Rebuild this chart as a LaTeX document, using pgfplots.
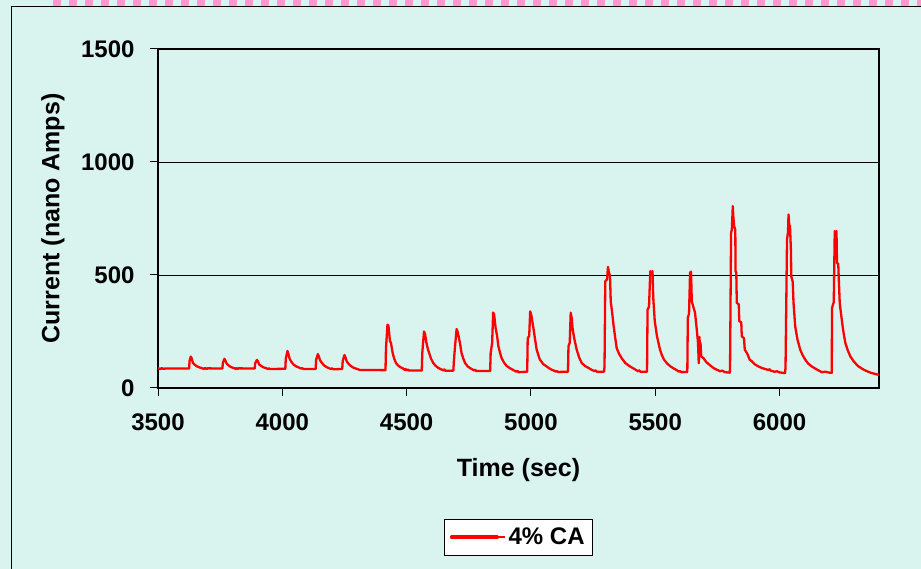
\documentclass[border=0pt]{standalone}
\usepackage{pgfplots}
\pgfplotsset{compat=1.18}
\usepackage{fontspec}
\setmainfont{Liberation Sans}
\definecolor{panel}{HTML}{D9F3EF}
\definecolor{stripe}{HTML}{FF99CC}

\pgfplotstableread{
t v
3500 87
3510 84
3515 88
3520 85
3530 86
3560 86
3600 86
3625 86
3627 120
3632 139
3636 130
3640 112
3648 103
3656 96
3665 92
3675 88
3685 85
3690 88
3695 84
3700 87
3750 86
3759 86
3761 112
3767 129
3771 122
3776 108
3784 100
3793 93
3803 89
3812 85
3817 88
3820 84
3824 87
3880 86
3889 86
3891 110
3898 124
3902 118
3907 104
3916 97
3925 91
3935 88
3942 84
3946 87
3950 84
4012 85
4014 130
4021 164
4025 148
4030 128
4037 115
4046 103
4057 95
4068 90
4075 86
4080 88
4085 84
4134 84
4136 125
4143 150
4147 140
4152 122
4160 110
4169 99
4179 92
4189 87
4196 84
4200 87
4205 83
4241 84
4243 120
4250 146
4254 136
4259 118
4267 106
4276 97
4286 90
4296 86
4305 83
4310 80
4415 79
4417 176
4423 280
4427 275
4433 207
4437 200
4444 154
4450 130
4457 111
4465 100
4475 92
4485 87
4492 80
4496 84
4500 78
4505 82
4510 77
4561 77
4563 156
4570 250
4574 240
4580 198
4586 170
4591 154
4598 130
4607 111
4615 100
4627 89
4640 82
4648 78
4652 82
4656 76
4688 77
4690 118
4694 175
4701 261
4705 250
4712 213
4716 190
4721 154
4728 130
4735 111
4745 96
4755 88
4765 82
4772 78
4776 81
4780 75
4836 75
4838 154
4844 200
4848 334
4852 325
4858 265
4864 230
4869 185
4876 155
4882 132
4892 112
4902 98
4915 88
4928 80
4935 76
4940 72
4945 76
4950 70
4985 72
4987 220
4993 230
4997 339
5002 320
5010 265
5016 220
5023 170
5030 145
5036 126
5050 105
5064 95
5075 86
5085 80
5095 76
5100 72
5104 75
5110 71
5149 72
5151 185
5156 200
5160 333
5164 310
5168 259
5175 215
5184 170
5194 135
5204 111
5218 97
5231 89
5245 80
5255 75
5260 78
5265 72
5294 72
5296 95
5299 472
5306 480
5310 536
5314 510
5318 497
5321 383
5326 340
5332 280
5338 230
5345 176
5355 150
5365 132
5380 110
5399 95
5415 85
5425 78
5432 74
5436 78
5440 72
5467 72
5469 346
5475 360
5480 517
5485 505
5489 517
5492 399
5498 296
5507 229
5513 200
5519 170
5527 145
5535 126
5548 108
5562 95
5575 86
5588 78
5595 72
5600 75
5605 70
5629 71
5631 310
5636 330
5640 510
5644 515
5647 383
5653 360
5660 333
5667 259
5672 200
5675 110
5678 225
5680 150
5682 200
5685 140
5690 135
5694 132
5705 115
5721 100
5735 88
5745 82
5754 78
5760 74
5770 77
5780 70
5800 68
5801 111
5805 687
5808 700
5812 805
5814 760
5817 717
5822 700
5823 517
5826 510
5828 377
5836 370
5838 296
5846 290
5848 229
5857 220
5860 170
5871 150
5880 125
5889 118
5900 105
5914 96
5930 88
5954 80
5960 83
5965 76
5970 75
5980 72
5990 74
6000 69
6022 66
6024 89
6030 657
6034 690
6036 768
6039 720
6042 717
6046 600
6047 494
6053 470
6056 380
6063 272
6072 215
6083 170
6093 145
6103 126
6115 108
6130 95
6145 85
6160 76
6170 70
6185 72
6200 68
6210 67
6211 354
6218 380
6222 694
6226 600
6229 694
6231 553
6236 550
6242 376
6252 287
6258 240
6265 198
6275 165
6285 139
6300 115
6318 95
6340 80
6365 68
6385 62
6400 58
}\currentdata

\begin{document}
\begin{tikzpicture}
\fill[panel] (0pt,0pt) rectangle (921pt,569pt);
\useasboundingbox (0pt,0pt) rectangle (921pt,569pt);
% dashed strip along the top edge and the inner frame
\draw[stripe, line width=6pt, dash pattern=on 8pt off 8pt] (53pt,566pt) -- (921pt,566pt);
\draw[black, line width=1pt] (11pt,0pt) -- (11pt,562pt) -- (921pt,562pt);
\begin{axis}[
  at={(158pt,181pt)}, anchor=south west,
  scale only axis, width=721pt, height=339pt,
  clip=false,
  xmin=3500, xmax=6400, ymin=0, ymax=1500,
  xtick={3500,4000,4500,5000,5500,6000},
  ytick={0,500,1000,1500},
  ymajorgrids,
  grid style={black, line width=0.8pt},
  axis line style={black, line width=1.2pt},
  major tick length=0pt,
  /pgf/number format/1000 sep={},
  /pgf/number format/assume math mode=true,
  ticklabel style={font=\fontsize{24}{28}\selectfont\bfseries},
  xticklabel style={yshift=-22pt},
  yticklabel style={xshift=-20pt},
  xlabel={Time (sec)},
  ylabel={Current (nano Amps)},
  label style={font=\fontsize{25}{30}\selectfont\bfseries},
  xlabel style={at={(axis description cs:0.5,-0.242)}, anchor=center},
  ylabel style={at={(axis description cs:-0.1456,0.5)}, anchor=center},
  legend style={at={(axis description cs:0.5,-0.386)}, anchor=north,
    draw=black, fill=white,
    font=\fontsize{24}{28}\selectfont\bfseries,
    inner xsep=6pt, inner ysep=7pt},
]
\addplot[red, line width=2.3pt, line join=round,
  legend image code/.code={
    \fill[red] (0pt,-0.7pt) rectangle (46pt,0.7pt);
    \path (0pt,0pt) -- (54pt,0pt);}]
  table[x=t, y=v] {\currentdata};
\addlegendentry{4\% CA}
% outward tick marks on the left and bottom axis lines
\pgfplotsinvokeforeach{3500,4000,4500,5000,5500,6000}{
  \draw[black, line width=1pt] (axis cs:#1,0) -- ++(0pt,-8pt);}
\pgfplotsinvokeforeach{0,500,1000,1500}{
  \draw[black, line width=1pt] (axis cs:3500,#1) -- ++(-8pt,0pt);}
\end{axis}
\end{tikzpicture}
\end{document}
